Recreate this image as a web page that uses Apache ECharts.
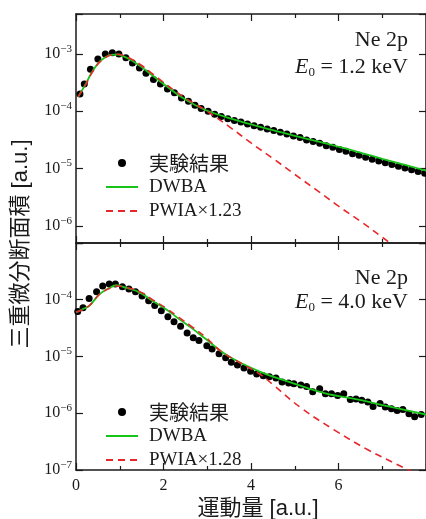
<!DOCTYPE html>
<html>
<head>
<meta charset="utf-8">
<script src="https://cdn.jsdelivr.net/npm/echarts@6/dist/echarts.min.js"></script>
<style>
  html, body { margin: 0; background: #fff; }
  #main { width: 426px; height: 519px; }
</style>
</head>
<body>
<div id="main"></div>
<script>
// E0 = 1.2 keV  (上段)
const topExpX = [0.09, 0.19, 0.33, 0.50, 0.67, 0.83, 0.98, 1.14, 1.29, 1.45, 1.60, 1.77, 1.93, 2.09, 2.25, 2.41, 2.57, 2.72, 2.86, 3.02,
  3.17, 3.32, 3.47, 3.62, 3.77, 3.92, 4.07, 4.22, 4.37, 4.52, 4.67, 4.82, 4.97, 5.12, 5.27, 5.42, 5.57, 5.72, 5.87, 6.02,
  6.17, 6.32, 6.47, 6.62, 6.77, 6.92, 7.07, 7.22, 7.37, 7.52, 7.67, 7.82, 7.97];
const topExpY = [2.0e-4, 3.0e-4, 5.4e-4, 8.2e-4, 1.0e-3, 1.05e-3, 1.0e-3, 8.6e-4, 7.0e-4, 5.7e-4, 4.6e-4, 3.6e-4, 3.0e-4, 2.45e-4, 2.1e-4, 1.7e-4, 1.5e-4, 1.28e-4, 1.12e-4, 1.0e-4,
  8.9e-5, 8.1e-5, 7.4e-5, 6.9e-5, 6.5e-5, 6.0e-5, 5.6e-5, 5.25e-5, 4.9e-5, 4.6e-5, 4.3e-5, 4.0e-5, 3.7e-5, 3.47e-5, 3.16e-5, 2.95e-5, 2.75e-5, 2.5e-5, 2.35e-5, 2.15e-5,
  2.0e-5, 1.82e-5, 1.7e-5, 1.58e-5, 1.45e-5, 1.35e-5, 1.26e-5, 1.17e-5, 1.1e-5, 1.02e-5, 9.5e-6, 8.9e-6, 8.3e-6];
const topDwbaX = [0.05, 0.2, 0.35, 0.5, 0.65, 0.8, 0.95, 1.1, 1.3, 1.5, 1.75, 2.0, 2.25, 2.5, 2.75, 3.0, 3.5, 4.0, 4.5, 5.0, 5.5, 6.0, 6.5, 7.0, 7.5, 8.0];
const topDwbaY = [1.8e-4, 2.8e-4, 4.6e-4, 6.8e-4, 8.6e-4, 9.7e-4, 9.8e-4, 9.0e-4, 7.5e-4, 5.9e-4, 4.2e-4, 3.0e-4, 2.15e-4, 1.6e-4, 1.25e-4, 1.02e-4,
  7.6e-5, 5.9e-5, 4.7e-5, 3.7e-5, 3.0e-5, 2.4e-5, 1.9e-5, 1.48e-5, 1.17e-5, 9.2e-6];
const topPwiaX = [0.05, 0.2, 0.35, 0.5, 0.65, 0.8, 0.95, 1.1, 1.3, 1.5, 1.75, 2.0, 2.25, 2.5, 2.75, 3.0, 3.5, 4.0, 4.5, 5.0, 5.5, 6.0, 6.5, 7.0, 7.5];
const topPwiaY = [1.8e-4, 2.7e-4, 4.5e-4, 6.7e-4, 8.5e-4, 9.6e-4, 9.9e-4, 9.3e-4, 7.9e-4, 6.3e-4, 4.5e-4, 3.2e-4, 2.3e-4, 1.7e-4, 1.3e-4, 1.0e-4,
  5.4e-5, 2.8e-5, 1.5e-5, 7.9e-6, 4.2e-6, 2.2e-6, 1.2e-6, 6.3e-7, 3.3e-7];

// E0 = 4.0 keV  (下段)
const botExpX = [0.04, 0.16, 0.30, 0.47, 0.61, 0.76, 0.90, 1.06, 1.21, 1.36, 1.51, 1.66, 1.80, 1.95, 2.10, 2.24, 2.39, 2.54, 2.68, 2.81, 2.99,
  3.11, 3.27, 3.42, 3.55, 3.69, 3.84, 3.99, 4.13, 4.28, 4.42, 4.57, 4.71, 4.86, 4.98, 5.14, 5.27, 5.41, 5.57, 5.70, 5.84, 5.98,
  6.12, 6.27, 6.40, 6.53, 6.67, 6.79, 6.95, 7.07, 7.21, 7.34, 7.47, 7.61, 7.74, 7.89];
const botExpY = [6.2e-5, 7.2e-5, 1.05e-4, 1.38e-4, 1.75e-4, 1.9e-4, 1.9e-4, 1.7e-4, 1.55e-4, 1.38e-4, 1.17e-4, 9.6e-5, 7.9e-5, 6.4e-5, 5.0e-5, 4.1e-5, 3.4e-5, 2.6e-5, 2.15e-5, 1.91e-5, 1.55e-5,
  1.35e-5, 1.12e-5, 9.5e-6, 7.9e-6, 7.1e-6, 6.3e-6, 5.5e-6, 4.9e-6, 4.6e-6, 4.4e-6, 4.2e-6, 3.55e-6, 3.4e-6, 3.3e-6, 3.16e-6, 2.95e-6, 2.4e-6, 2.7e-6, 2.2e-6, 2.2e-6, 2.05e-6,
  2.2e-6, 1.74e-6, 1.78e-6, 1.7e-6, 1.58e-6, 1.32e-6, 1.48e-6, 1.29e-6, 1.2e-6, 1.12e-6, 1.17e-6, 9.8e-7, 8.7e-7, 9.5e-7];
const botDwbaX = [0.0, 0.15, 0.31, 0.54, 0.77, 0.92, 1.15, 1.45, 1.75, 2.05, 2.35, 2.66, 2.96, 3.45, 4.2, 4.95, 5.7, 6.45, 7.2, 8.0];
const botDwbaY = [6.0e-5, 6.8e-5, 7.9e-5, 1.26e-4, 1.62e-4, 1.8e-4, 1.62e-4, 1.35e-4, 9.5e-5, 6.9e-5, 4.6e-5, 3.1e-5, 2.05e-5, 1.05e-5, 5.4e-6, 3.4e-6, 2.24e-6, 1.74e-6, 1.29e-6, 9.5e-7];
const botPwiaX = [0.0, 0.15, 0.31, 0.54, 0.77, 0.92, 1.15, 1.45, 1.75, 2.05, 2.35, 2.66, 2.96, 3.3, 3.77, 4.2, 4.5, 5.15, 5.9, 6.66, 7.52, 8.0];
const botPwiaY = [6.0e-5, 6.7e-5, 8.0e-5, 1.25e-4, 1.6e-4, 1.75e-4, 1.65e-4, 1.4e-4, 1.0e-4, 7.2e-5, 4.9e-5, 3.3e-5, 2.2e-5, 1.26e-5, 7.6e-6, 4.9e-6, 3.2e-6, 1.23e-6, 5.1e-7, 2.3e-7, 1.07e-7, 7e-8];

const xTicks = [0, 2, 4, 6, 8];

const SERIF = '"Liberation Serif", "Times New Roman", serif';
const SANS = '"Liberation Sans", "Noto Sans CJK JP", sans-serif';
const INK = '#1a1a1a';
const GREEN = '#17c417';
const RED = '#e8272c';

const pairs = (xs, ys) => xs.map((x, i) => [x, ys[i]]);

function xAx(grid, pos, labels) {
  return {
    type: 'value', gridIndex: grid, position: pos, min: xTicks[0], max: xTicks[xTicks.length - 1], interval: 2,
    axisLine: { onZero: false, lineStyle: { color: INK, width: 1.5 } },
    axisTick: { inside: true, length: 7, lineStyle: { color: INK, width: 1.2 } },
    minorTick: { show: true, splitNumber: 2, length: 4, lineStyle: { color: INK, width: 1.2 } },
    splitLine: { show: false },
    axisLabel: { show: labels, margin: 8, fontFamily: SERIF, fontSize: 16, color: INK, showMaxLabel: false }
  };
}

function yAx(grid, pos, min, max, labels) {
  const topExp = Math.floor(Math.log10(max) - 0.01);
  return {
    type: 'log', logBase: 10, gridIndex: grid, position: pos, min: min, max: max,
    axisLine: { onZero: false, lineStyle: { color: INK, width: 1.5 } },
    axisTick: { inside: true, length: 7, lineStyle: { color: INK, width: 1.2 } },
    splitLine: { show: false },
    axisLabel: {
      show: labels, margin: 4,
      formatter: v => {
        const e = Math.log10(v);
        if (Math.abs(e - Math.round(e)) > 0.01 || Math.round(e) > topExp) return '';
        return '{b|10}{s|−' + (-Math.round(e)) + '}';
      },
      rich: {
        b: { fontFamily: SERIF, fontSize: 16, color: INK },
        s: { fontFamily: SERIF, fontSize: 11, color: INK, padding: [0, 0, 10, 0] }
      }
    }
  };
}

// line icons without the centre dot
function legendAt(top, names) {
  return {
    orient: 'vertical', left: 105, top: top, padding: 0, itemWidth: 32, itemHeight: 8, itemGap: 4,
    selectedMode: false,
    data: names.map((n, i) => i === 0 ? n : { name: n, itemStyle: { opacity: 0 } }),
    formatter: n => n === '実験結果' ? '{c|' + n + '}' : n,
    textStyle: {
      fontFamily: SERIF, fontSize: 19, color: INK, lineHeight: 20, padding: [0, 0, 0, 6],
      rich: { c: { fontFamily: '"Noto Sans CJK JP", sans-serif', fontSize: 20, lineHeight: 20, color: INK } }
    }
  };
}

function note(y1, y2, e0) {
  return [
    { type: 'text', x: 408, y: y1, style: { text: 'Ne 2p', font: '22px ' + SERIF, fill: INK, align: 'right', verticalAlign: 'middle' } },
    { type: 'text', x: 408, y: y2, style: {
      text: '{e|E}{sub|0}{t| = ' + e0 + ' keV}', fill: INK, align: 'right', verticalAlign: 'middle',
      rich: {
        e: { fontFamily: SERIF, fontStyle: 'italic', fontSize: 22, fill: INK },
        sub: { fontFamily: SERIF, fontSize: 13, fill: INK, padding: [12, 0, 0, 0] },
        t: { fontFamily: SERIF, fontSize: 22, fill: INK }
      }
    } }
  ];
}

const dots = { color: '#000', opacity: 1 };

const chart = echarts.init(document.getElementById('main'), null, { renderer: 'canvas' });
chart.setOption({
  animation: false,
  backgroundColor: '#fff',
  grid: [
    { left: 76, top: 14, width: 353.6, height: 229 },
    { left: 76, top: 243, width: 353.6, height: 227 }
  ],
  xAxis: [xAx(0, 'bottom', false), xAx(0, 'top', false), xAx(1, 'bottom', true), xAx(1, 'top', false)],
  yAxis: [yAx(0, 'left', 5e-7, 5e-3, true), yAx(0, 'right', 5e-7, 5e-3, false),
          yAx(1, 'left', 1e-7, 1e-3, true), yAx(1, 'right', 1e-7, 1e-3, false)],
  legend: [
    legendAt(153, ['実験結果', 'DWBA', 'PWIA×1.23']),
    legendAt(402, ['実験結果', 'DWBA', 'PWIA×1.28'])
  ],
  series: [
    { name: '実験結果', type: 'scatter', xAxisIndex: 0, yAxisIndex: 0, symbolSize: 7, itemStyle: dots, data: pairs(topExpX, topExpY), z: 2 },
    { name: 'DWBA', type: 'line', xAxisIndex: 0, yAxisIndex: 0, smooth: 0.4, symbol: 'none', lineStyle: { color: GREEN, width: 1.8 }, itemStyle: { color: GREEN }, data: pairs(topDwbaX, topDwbaY), z: 3 },
    { name: 'PWIA×1.23', type: 'line', xAxisIndex: 0, yAxisIndex: 0, smooth: 0.4, symbol: 'none', lineStyle: { color: RED, width: 1.6, type: [7, 5] }, itemStyle: { color: RED }, data: pairs(topPwiaX, topPwiaY), z: 4 },
    { name: '実験結果', type: 'scatter', xAxisIndex: 2, yAxisIndex: 2, symbolSize: 7, itemStyle: dots, data: pairs(botExpX, botExpY), z: 2 },
    { name: 'DWBA', type: 'line', xAxisIndex: 2, yAxisIndex: 2, smooth: 0.4, symbol: 'none', lineStyle: { color: GREEN, width: 1.8 }, itemStyle: { color: GREEN }, data: pairs(botDwbaX, botDwbaY), z: 3 },
    { name: 'PWIA×1.28', type: 'line', xAxisIndex: 2, yAxisIndex: 2, smooth: 0.4, symbol: 'none', lineStyle: { color: RED, width: 1.6, type: [7, 5] }, itemStyle: { color: RED }, data: pairs(botPwiaX, botPwiaY), z: 4 }
  ],
  graphic: [
    ...note(40, 67, '1.2'),
    ...note(278, 302, '4.0'),
    { type: 'text', x: 21, y: 244, rotation: Math.PI / 2, style: { text: '三重微分断面積 [a.u.]', font: '22px ' + SANS, fill: INK, align: 'center', verticalAlign: 'middle' } },
    { type: 'text', x: 258, y: 509, style: { text: '運動量 [a.u.]', font: '22px ' + SANS, fill: INK, align: 'center', verticalAlign: 'middle' } }
  ]
});
</script>
</body>
</html>
